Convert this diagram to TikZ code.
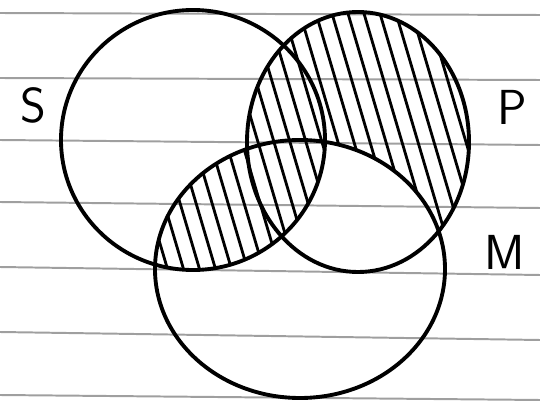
\documentclass[tikz,border=0pt]{standalone}
\usepackage{fontspec}
\usetikzlibrary{positioning}

\tikzset{
    paperline/.style={gray!75, line width=2.8pt},
    setline/.style={black, line width=5.5pt},
    hatchline/.style={black, line width=4pt},
    setlabel/.style={font=\sffamily\fontsize{70}{70}\selectfont, inner sep=0pt}
}

\newcommand{\hatchall}{%
    \foreach \i in {-200,-184,...,560} {
        \draw[hatchline] (\i,0) -- (\i+120,406);
    }%
}

\begin{document}
\begin{tikzpicture}[x=0.05cm, y=-0.05cm]
    \useasboundingbox (0,0) rectangle (540,406);

    % Ruled paper
    \foreach \ya/\yb in {13/15, 78/80, 140/145, 202/208, 267/275, 332/340, 395/400} {
        \draw[paperline] (0,\ya) -- (540,\yb);
    }

    % Hatching: S and M together
    \begin{scope}
        \clip (193,140) ellipse [x radius=132, y radius=130];
        \clip (300,269) ellipse [x radius=145, y radius=129];
        \hatchall
    \end{scope}

    % Hatching: P outside M
    \begin{scope}
        \clip (358,142) ellipse [x radius=111, y radius=130];
        \begin{scope}[even odd rule]
            \clip (300,269) ellipse [x radius=145, y radius=129]
                (-50,-50) rectangle (600,460);
            \hatchall
        \end{scope}
    \end{scope}

    % Circles
    \draw[setline] (193,140) ellipse [x radius=132, y radius=130];
    \draw[setline] (358,142) ellipse [x radius=111, y radius=130];
    \draw[setline] (300,269) ellipse [x radius=145, y radius=129];

    % Labels
    \node[setlabel] (S) at (33,105) {S};
    \node[setlabel] (P) at (512,107) {P};
    \node[setlabel] (M) at (505,252) {M};
\end{tikzpicture}
\end{document}
